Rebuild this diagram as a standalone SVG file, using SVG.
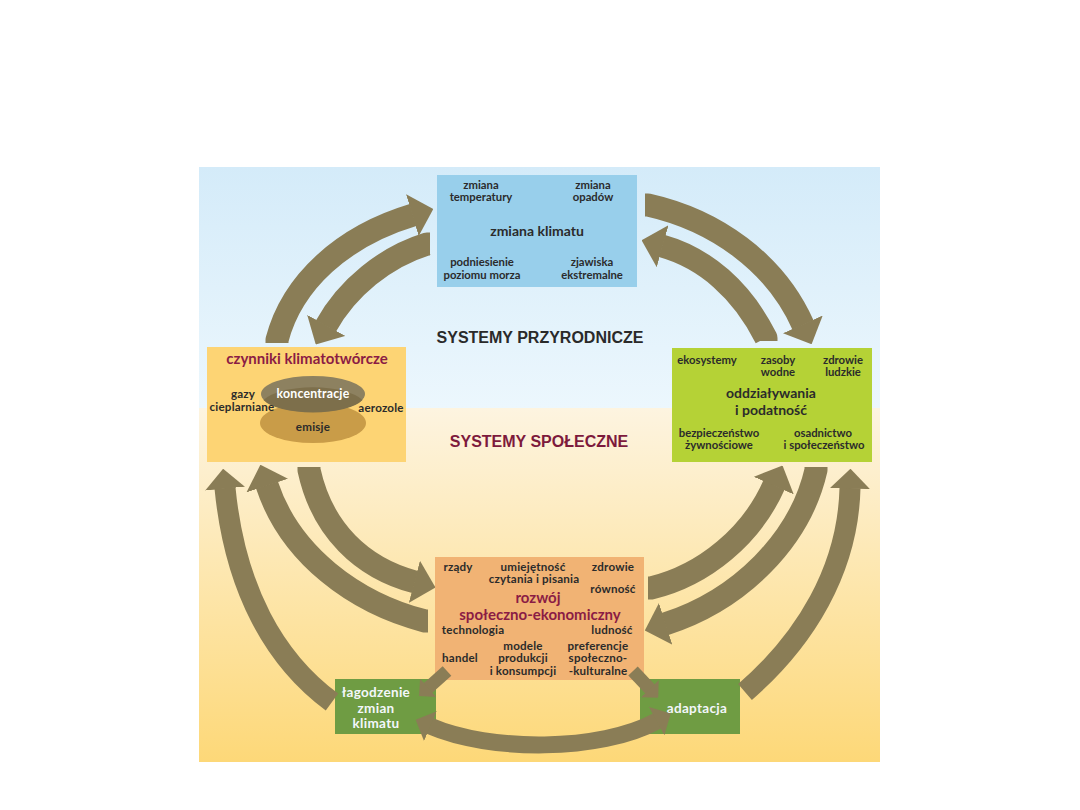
<svg xmlns="http://www.w3.org/2000/svg" width="1080" height="810" viewBox="0 0 1080 810">
<defs>
<linearGradient id="gSky" x1="0" y1="0" x2="0" y2="1">
<stop offset="0" stop-color="#d4ebf9"/>
<stop offset="1" stop-color="#ecf7fd"/>
</linearGradient>
<linearGradient id="gSand" x1="0" y1="0" x2="0" y2="1">
<stop offset="0" stop-color="#fdf4e0"/>
<stop offset="1" stop-color="#fdd878"/>
</linearGradient>
<marker id="ah" viewBox="0 0 10 20" refX="0.3" refY="10" markerWidth="0.95" markerHeight="1.9" orient="auto" markerUnits="strokeWidth">
<path d="M0,0 L10,10 L0,20 Z" fill="#8a7d56"/>
</marker>
<marker id="ahs" viewBox="0 0 10 20" refX="9.7" refY="10" markerWidth="0.95" markerHeight="1.9" orient="auto" markerUnits="strokeWidth">
<path d="M10,0 L0,10 L10,20 Z" fill="#8a7d56"/>
</marker>
</defs>
<style>
.t{font-family:Lato,"Liberation Sans",sans-serif;font-weight:bold;font-size:11.3px;fill:#2b2b2b;text-anchor:middle}
.m{font-size:11.6px;letter-spacing:0.2px}
.big{font-size:14px}
.red{fill:#8b1c44}
.wh{fill:#f3f7fb;font-size:13.5px;letter-spacing:0.3px}
.ttl{font-family:"Liberation Sans",Arial,sans-serif;font-weight:bold;font-size:16px;text-anchor:middle}
.arr{fill:none;stroke:#8a7d56;stroke-width:23;stroke-linejoin:round;marker-end:url(#ah)}
.sm{stroke-width:13}
</style>
<rect width="1080" height="810" fill="#ffffff"/>
<rect x="199" y="167" width="681" height="241" fill="url(#gSky)"/>
<rect x="199" y="408" width="681" height="354" fill="url(#gSand)"/>
<text class="ttl" x="540" y="343" fill="#2a2a2a">SYSTEMY PRZYRODNICZE</text>
<text class="ttl" x="539" y="447" fill="#7d1a3c">SYSTEMY SPOŁECZNE</text>

<g id="zmiana-klimatu">
<rect x="437" y="175" width="200" height="112" fill="#98cfeb"/>
<text class="t" x="481" y="189">zmiana</text>
<text class="t" x="481" y="201">temperatury</text>
<text class="t" x="593" y="189">zmiana</text>
<text class="t" x="593" y="201">opadów</text>
<text class="t big" x="537" y="236">zmiana klimatu</text>
<text class="t" x="482" y="266">podniesienie</text>
<text class="t" x="482" y="279">poziomu morza</text>
<text class="t" x="592" y="266">zjawiska</text>
<text class="t" x="592" y="279">ekstremalne</text>
</g>

<g id="czynniki">
<rect x="207" y="347" width="199" height="115" fill="#fdd474"/>
<text class="t red" x="307" y="364" style="font-size:15px">czynniki klimatotwórcze</text>
<ellipse cx="313" cy="423" rx="53" ry="20" fill="#c99c48"/>
<ellipse cx="313" cy="394" rx="52" ry="18" fill="#8d8160"/>
<path d="M263.5,400 A52,18 0 0 0 362.5,400 A53,20 0 0 0 263.5,400 Z" fill="#7d6f4b"/>
<text class="t m" x="313" y="398" style="fill:#ffffff;font-size:12.3px">koncentracje</text>
<text class="t m" x="313" y="431">emisje</text>
<text class="t m" x="243" y="398">gazy</text>
<text class="t m" x="242" y="411">cieplarniane</text>
<text class="t m" x="381" y="412">aerozole</text>
</g>

<g id="oddzialywania">
<rect x="672" y="348" width="200" height="114" fill="#b5d236"/>
<text class="t" x="707" y="364">ekosystemy</text>
<text class="t" x="778" y="364">zasoby</text>
<text class="t" x="778" y="375.5">wodne</text>
<text class="t" x="843" y="364">zdrowie</text>
<text class="t" x="843" y="375.5">ludzkie</text>
<text class="t big" x="771" y="398">oddziaływania</text>
<text class="t big" x="771" y="415">i podatność</text>
<text class="t" x="719" y="437">bezpieczeństwo</text>
<text class="t" x="719" y="448.5">żywnościowe</text>
<text class="t" x="823" y="437">osadnictwo</text>
<text class="t" x="824" y="448.5">i społeczeństwo</text>
</g>

<g id="rozwoj">
<rect x="435" y="557" width="209" height="123" fill="#f1b374"/>
<text class="t m" x="458" y="571">rządy</text>
<text class="t m" x="533" y="570.5">umiejętność</text>
<text class="t m" x="534" y="583">czytania i pisania</text>
<text class="t m" x="613" y="571">zdrowie</text>
<text class="t m" x="613" y="593">równość</text>
<text class="t red" x="538" y="603" style="font-size:15px">rozwój</text>
<text class="t red" x="540" y="620" style="font-size:15px">społeczno-ekonomiczny</text>
<text class="t m" x="473" y="634">technologia</text>
<text class="t m" x="612" y="634">ludność</text>
<text class="t m" x="523" y="649.5">modele</text>
<text class="t m" x="523" y="662">produkcji</text>
<text class="t m" x="523" y="675">i konsumpcji</text>
<text class="t m" x="460" y="662">handel</text>
<text class="t m" x="598" y="649.5">preferencje</text>
<text class="t m" x="598" y="662">społeczno-</text>
<text class="t m" x="598" y="675">-kulturalne</text>
</g>

<g id="lagodzenie">
<rect x="335" y="679" width="101" height="55" fill="#6f9c43"/>
<text class="t wh" x="376" y="697">łagodzenie</text>
<text class="t wh" x="376" y="713">zmian</text>
<text class="t wh" x="376" y="728">klimatu</text>
</g>

<g id="adaptacja">
<rect x="640" y="679" width="100" height="55" fill="#6f9c43"/>
<text class="t wh" x="697" y="713">adaptacja</text>
</g>

<g id="connectors">
<path class="arr" d="M277,343 L277,340 C292,282 343,236 413,215"/>
<path class="arr" d="M430,244 L427,244 C385,257 347,288 326,326"/>
<path class="arr" d="M645,205 L648,205 C715,220 775,262 803,325"/>
<path class="arr" d="M766,341 L766,338 C742,290 705,258 662,246"/>
<path class="arr" d="M309,467 L309,470 C322,530 362,568 415,582"/>
<path class="arr" d="M428,621 L425,621 C355,603 290,555 267,485"/>
<path class="arr" style="stroke-width:21" d="M332,702 C275,660 235,590 225,488"/>
<path class="arr" d="M816,467 L816,470 C800,540 740,600 665,624"/>
<path class="arr" d="M648,588 L651,588 C705,575 752,535 774,485"/>
<path class="arr" style="stroke-width:21" d="M745,692 C805,640 848,570 850,488"/>
<path class="arr sm" d="M447,671 L428,688"/>
<path class="arr sm" d="M633,671 L650,689"/>
<path class="arr" style="stroke-width:17;marker-start:url(#ahs)" d="M430,726 C490,752 600,752 657,721"/>
</g>
</svg>
